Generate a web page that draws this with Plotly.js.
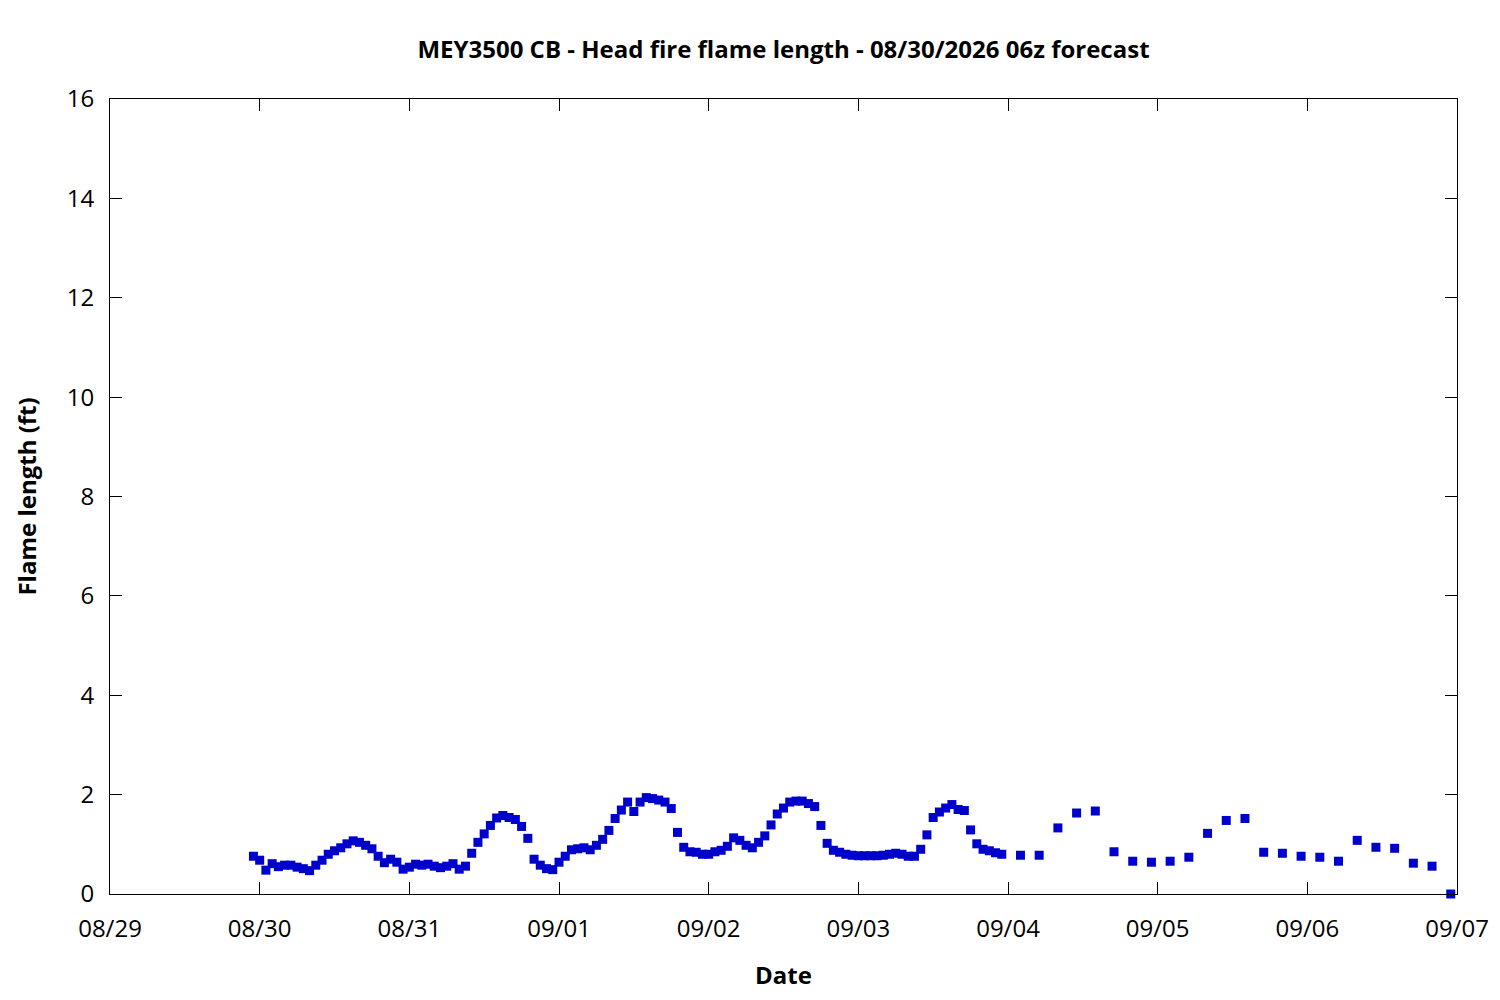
<!DOCTYPE html>
<html>
<head>
<meta charset="utf-8">
<script src="https://cdn.plot.ly/plotly-3.0.1.min.js"></script>
<style>
  body { margin: 0; background: #fff; }
  #chart { width: 1500px; height: 1000px; }
</style>
</head>
<body>
<div id="chart"></div>
<script>
// forecast times (hourly to 09/03 23:00, then every 3 hours)
const times = [
  "2026-08-29 23:00",
  "2026-08-30 00:00","2026-08-30 01:00","2026-08-30 02:00","2026-08-30 03:00","2026-08-30 04:00","2026-08-30 05:00",
  "2026-08-30 06:00","2026-08-30 07:00","2026-08-30 08:00","2026-08-30 09:00","2026-08-30 10:00","2026-08-30 11:00",
  "2026-08-30 12:00","2026-08-30 13:00","2026-08-30 14:00","2026-08-30 15:00","2026-08-30 16:00","2026-08-30 17:00",
  "2026-08-30 18:00","2026-08-30 19:00","2026-08-30 20:00","2026-08-30 21:00","2026-08-30 22:00","2026-08-30 23:00",
  "2026-08-31 00:00","2026-08-31 01:00","2026-08-31 02:00","2026-08-31 03:00","2026-08-31 04:00","2026-08-31 05:00",
  "2026-08-31 06:00","2026-08-31 07:00","2026-08-31 08:00","2026-08-31 09:00","2026-08-31 10:00","2026-08-31 11:00",
  "2026-08-31 12:00","2026-08-31 13:00","2026-08-31 14:00","2026-08-31 15:00","2026-08-31 16:00","2026-08-31 17:00",
  "2026-08-31 18:00","2026-08-31 19:00","2026-08-31 20:00","2026-08-31 21:00","2026-08-31 22:00","2026-08-31 23:00",
  "2026-09-01 00:00","2026-09-01 01:00","2026-09-01 02:00","2026-09-01 03:00","2026-09-01 04:00","2026-09-01 05:00",
  "2026-09-01 06:00","2026-09-01 07:00","2026-09-01 08:00","2026-09-01 09:00","2026-09-01 10:00","2026-09-01 11:00",
  "2026-09-01 12:00","2026-09-01 13:00","2026-09-01 14:00","2026-09-01 15:00","2026-09-01 16:00","2026-09-01 17:00",
  "2026-09-01 18:00","2026-09-01 19:00","2026-09-01 20:00","2026-09-01 21:00","2026-09-01 22:00","2026-09-01 23:00",
  "2026-09-02 00:00","2026-09-02 01:00","2026-09-02 02:00","2026-09-02 03:00","2026-09-02 04:00","2026-09-02 05:00",
  "2026-09-02 06:00","2026-09-02 07:00","2026-09-02 08:00","2026-09-02 09:00","2026-09-02 10:00","2026-09-02 11:00",
  "2026-09-02 12:00","2026-09-02 13:00","2026-09-02 14:00","2026-09-02 15:00","2026-09-02 16:00","2026-09-02 17:00",
  "2026-09-02 18:00","2026-09-02 19:00","2026-09-02 20:00","2026-09-02 21:00","2026-09-02 22:00","2026-09-02 23:00",
  "2026-09-03 00:00","2026-09-03 01:00","2026-09-03 02:00","2026-09-03 03:00","2026-09-03 04:00","2026-09-03 05:00",
  "2026-09-03 06:00","2026-09-03 07:00","2026-09-03 08:00","2026-09-03 09:00","2026-09-03 10:00","2026-09-03 11:00",
  "2026-09-03 12:00","2026-09-03 13:00","2026-09-03 14:00","2026-09-03 15:00","2026-09-03 16:00","2026-09-03 17:00",
  "2026-09-03 18:00","2026-09-03 19:00","2026-09-03 20:00","2026-09-03 21:00","2026-09-03 22:00","2026-09-03 23:00",
  "2026-09-04 02:00","2026-09-04 05:00","2026-09-04 08:00","2026-09-04 11:00",
  "2026-09-04 14:00","2026-09-04 17:00","2026-09-04 20:00","2026-09-04 23:00",
  "2026-09-05 02:00","2026-09-05 05:00","2026-09-05 08:00","2026-09-05 11:00",
  "2026-09-05 14:00","2026-09-05 17:00","2026-09-05 20:00","2026-09-05 23:00",
  "2026-09-06 02:00","2026-09-06 05:00","2026-09-06 08:00","2026-09-06 11:00",
  "2026-09-06 14:00","2026-09-06 17:00","2026-09-06 20:00","2026-09-06 23:00"
];

// head fire flame length, ft
const flameLength = [
  0.76,
  0.68, 0.48, 0.61, 0.55, 0.58, 0.58, 0.54, 0.51, 0.47, 0.58, 0.68, 0.80,
  0.87, 0.93, 1.01, 1.07, 1.04, 0.98, 0.91, 0.76, 0.63, 0.70, 0.64, 0.50,
  0.54, 0.60, 0.58, 0.60, 0.56, 0.53, 0.56, 0.61, 0.50, 0.56, 0.82, 1.04,
  1.21, 1.38, 1.53, 1.58, 1.54, 1.50, 1.36, 1.12, 0.70, 0.58, 0.51, 0.49,
  0.64, 0.76, 0.89, 0.91, 0.93, 0.89, 0.98, 1.10, 1.28, 1.52, 1.69, 1.85,
  1.66, 1.85, 1.94, 1.92, 1.89, 1.85, 1.72, 1.24, 0.94, 0.85, 0.84, 0.80,
  0.80, 0.85, 0.88, 0.96, 1.13, 1.08, 0.98, 0.93, 1.04, 1.17, 1.39, 1.61,
  1.73, 1.85, 1.87, 1.87, 1.82, 1.76, 1.38, 1.02, 0.88, 0.84, 0.80, 0.78,
  0.77, 0.77, 0.77, 0.77, 0.78, 0.80, 0.82, 0.80, 0.76, 0.76, 0.90, 1.19,
  1.54, 1.65, 1.73, 1.80, 1.70, 1.68, 1.29, 1.01, 0.90, 0.87, 0.83, 0.80,
  0.78, 0.78, 1.33, 1.63, 1.67, 0.85, 0.66, 0.64,
  0.66, 0.74, 1.22, 1.48, 1.52, 0.84, 0.82, 0.76,
  0.74, 0.66, 1.08, 0.94, 0.92, 0.62, 0.56, 0.00
];

const xRange = ["2026-08-29 00:00", "2026-09-07 00:00"];
const yRange = [0, 16];

const fontFamily = "Open Sans, Noto Sans, sans-serif";

var data = [
  {
    type: "scatter",
    mode: "markers",
    x: times,
    y: flameLength,
    marker: { symbol: "square", size: 9, color: "#0000cc" },
    cliponaxis: false,
    showlegend: false
  }
];

var layout = {
  width: 1500,
  height: 1000,
  margin: { l: 110, r: 43, t: 99, b: 106 },
  paper_bgcolor: "#ffffff",
  plot_bgcolor: "#ffffff",
  font: { family: fontFamily, size: 24, color: "#000" },
  title: {
    text: "MEY3500 CB - Head fire flame length - 08/30/2026 06z forecast",
    font: { family: fontFamily, size: 24, weight: "bold", color: "#000" },
    x: 0.5, xref: "paper", xanchor: "center",
    y: 51, yref: "container", yanchor: "middle"
  },
  xaxis: {
    type: "date",
    range: xRange,
    dtick: 86400000,
    tick0: "2026-08-29",
    tickformat: "%m/%d",
    ticks: "inside",
    ticklen: 12,
    tickcolor: "#000",
    ticklabelstandoff: 13,
    showline: true,
    linecolor: "#000",
    linewidth: 1,
    mirror: "ticks",
    showgrid: false,
    zeroline: false,
    tickfont: { family: fontFamily, size: 24 },
    title: {
      text: "Date",
      font: { family: fontFamily, size: 24, weight: "bold" },
      standoff: 24
    }
  },
  yaxis: {
    range: yRange,
    dtick: 2,
    ticks: "inside",
    ticklen: 12,
    tickcolor: "#000",
    ticklabelstandoff: 10,
    showline: true,
    linecolor: "#000",
    linewidth: 1,
    mirror: "ticks",
    showgrid: false,
    zeroline: false,
    tickfont: { family: fontFamily, size: 24 },
    title: {
      text: "Flame length (ft)",
      font: { family: fontFamily, size: 24, weight: "bold" },
      standoff: 23
    }
  }
};

Plotly.newPlot("chart", data, layout, { displayModeBar: false });
</script>
</body>
</html>
